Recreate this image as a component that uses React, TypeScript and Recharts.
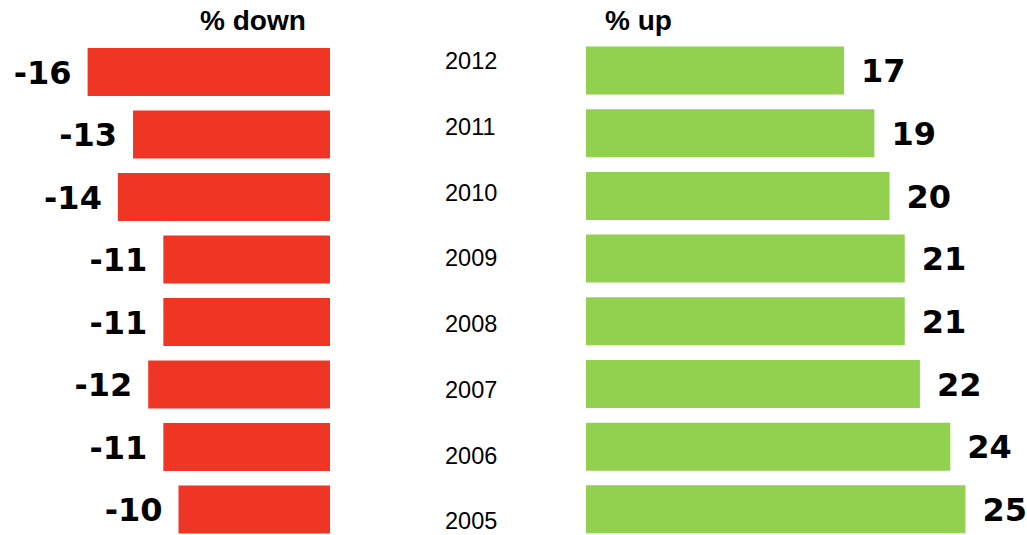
import React from "react";
import { BarChart, Bar, XAxis, YAxis, LabelList } from "recharts";

const years = ["2012", "2011", "2010", "2009", "2008", "2007", "2006", "2005"];
const downValues = [-16, -13, -14, -11, -11, -12, -11, -10];
const upValues = [17, 19, 20, 21, 21, 22, 24, 25];
const headers = ["% down", "% up"];

const data = years.map((year, i) => ({ year, down: downValues[i], up: upValues[i] }));

const RED = "#EF3524";
const GREEN = "#92D050";
const valueFont = "'DejaVu Sans', Verdana, sans-serif";
const textFont = "'Liberation Sans', Arial, sans-serif";

const LeftLabel = (props: any) => {
  const { x, y, width, height, value } = props;
  const left = Math.min(Number(x), Number(x) + Number(width));
  return (
    <text x={left - 16} y={Number(y) + Number(height) / 2} dy="0.37em" textAnchor="end"
      fontFamily={valueFont} fontWeight="bold" fontSize={32} fill="#000">
      {value}
    </text>
  );
};

const RightLabel = (props: any) => {
  const { x, y, width, height, value } = props;
  const right = Math.max(Number(x), Number(x) + Number(width));
  return (
    <text x={right + 17} y={Number(y) + Number(height) / 2} dy="0.37em" textAnchor="start"
      fontFamily={valueFont} fontWeight="bold" fontSize={32} fill="#000">
      {value}
    </text>
  );
};

const YearTick = (props: any) => {
  const { y, payload } = props;
  return (
    <text x={15} y={y} dy="0.35em" textAnchor="start" fontFamily={textFont} fontSize={23.5} fill="#000">
      {payload.value}
    </text>
  );
};

export default function App() {
  return (
    <div style={{ position: "absolute", left: 0, top: 0, width: 1027, height: 535, overflow: "hidden", background: "#fff" }}>
      <svg width={1027} height={40} style={{ position: "absolute", left: 0, top: 0 }}>
        <text x={200} y={30} fontFamily={textFont} fontWeight="bold" fontSize={28} fill="#000">{headers[0]}</text>
        <text x={605} y={30} fontFamily={textFont} fontWeight="bold" fontSize={28} fill="#000">{headers[1]}</text>
      </svg>

      <div style={{ position: "absolute", left: 0, top: 0 }}>
        <BarChart width={330} height={541} data={data} layout="vertical"
          margin={{ top: 41, right: 0, bottom: 0, left: 27 }}>
          <XAxis type="number" domain={[-20, 0]} hide />
          <YAxis type="category" dataKey="year" hide />
          <Bar dataKey="down" fill={RED} barSize={48} isAnimationActive={false}>
            <LabelList dataKey="down" content={LeftLabel} />
          </Bar>
        </BarChart>
      </div>

      <div style={{ position: "absolute", left: 430, top: 0 }}>
        <BarChart width={100} height={556} data={data} layout="vertical"
          margin={{ top: 28, right: 0, bottom: 2, left: 0 }}>
          <XAxis type="number" domain={[0, 28]} hide />
          <YAxis type="category" dataKey="year" width={100} axisLine={false} tickLine={false} tick={YearTick} />
          <Bar dataKey="up" fill="none" isAnimationActive={false} />
        </BarChart>
      </div>

      <div style={{ position: "absolute", left: 586, top: 0 }}>
        <BarChart width={441} height={541} data={data} layout="vertical"
          margin={{ top: 39.5, right: 16, bottom: 0, left: 0 }}>
          <XAxis type="number" domain={[0, 28]} hide />
          <YAxis type="category" dataKey="year" hide />
          <Bar dataKey="up" fill={GREEN} barSize={48} isAnimationActive={false}>
            <LabelList dataKey="up" content={RightLabel} />
          </Bar>
        </BarChart>
      </div>
    </div>
  );
}
